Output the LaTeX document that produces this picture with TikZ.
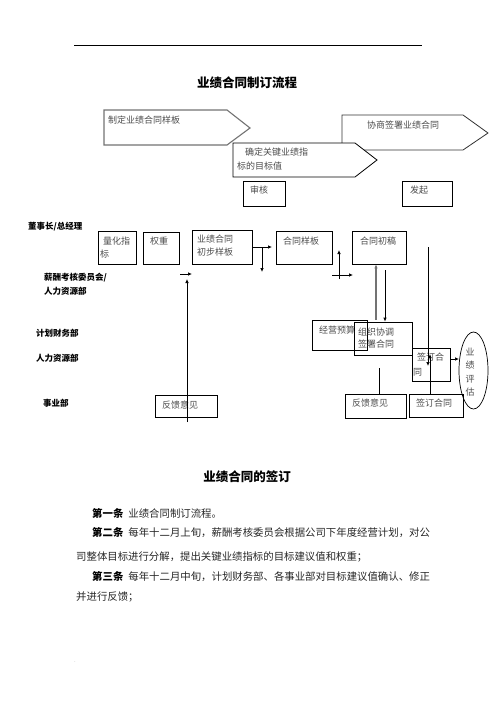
\documentclass[tikz,border=0pt]{standalone}
\usepackage{fontspec}
\setmainfont{Noto Sans CJK SC}
\usetikzlibrary{arrows.meta,calc,shapes.geometric}
\newcommand\bx[6][]{\node[boxs,#1,minimum width={(#5-#3)*1pt},minimum height={(#6-#4)*1pt}] (#2) at ({(#3+#5)/2},{(#4+#6)/2}) {};}
\begin{document}
\begin{tikzpicture}[x=1pt,y=-1pt,
  boxs/.style={draw=black,line width=0.7pt,inner sep=0pt},
  pent/.style={fill=white,line width=0.8pt},
  txt/.style={anchor=west,inner sep=0pt,font=\fontsize{9}{13}\selectfont,text=black!70,align=left},
  lane/.style={anchor=west,inner sep=0pt,font=\fontsize{8.5}{10}\selectfont\bfseries},
  ttl/.style={inner sep=0pt,font=\fontsize{12.5}{14}\selectfont\bfseries},
  body/.style={anchor=west,inner sep=0pt,font=\fontsize{10.4}{12}\selectfont,text=black!85},
  arr/.style={-{Latex[length=4pt,width=3.5pt]},line width=0.7pt},
  ln/.style={line width=0.7pt},
]
\useasboundingbox (0,0) rectangle (496,702);
% top rule
\coordinate (r1) at (74,45); \coordinate (r2) at (422,45);
\draw[line width=0.9pt] (r1) -- (r2);
\node[ttl] (t1) at (247,83) {业绩合同制订流程};

% pentagons
\draw[pent,draw=black!80] (342,115) -- (463,115) -- (488,133) -- (463,150) -- (342,150) -- cycle;
\draw[pent,draw=black!55,line width=1.1pt] (104,110) -- (227,110) -- (250,128) -- (227,145) -- (104,145) -- cycle;
\draw[pent,draw=black] (233,143) -- (355,143) -- (377,160) -- (355,177) -- (233,177) -- cycle;
\node[txt] (p1t) at (108,120) {制定业绩合同样板};
\node[txt] (p3t) at (367,125) {协商签署业绩合同};
\node[txt] (p2t) at (245,152) {确定关键业绩指};
\node[txt] (p2u) at (237,166) {标的目标值};

% boxes
\bx{sh}{243}{181}{285}{206}
\bx{fq}{402}{181}{452}{206}
\node[txt] (sht) at (250,190) {审核};
\node[txt] (fqt) at (410,190) {发起};

% lane labels
\node[lane] (l1) at (28,227) {董事长/总经理};
\node[lane] (l2) at (44,278) {薪酬考核委员会/};
\node[lane] (l3) at (44,291) {人力资源部};
\node[lane] (l4) at (36,333) {计划财务部};
\node[lane] (l5) at (36,358) {人力资源部};
\node[lane] (l6) at (43,403) {事业部};

% row boxes
\bx{lh}{98}{231}{136}{264}
\bx{qz}{143}{232}{179}{264}
\bx{yj}{192}{230}{252}{264}
\bx{ht}{276}{231}{332}{264}
\bx{cg}{352}{231}{406}{264}
\node[txt] (lht) at (103,241) {量化指};
\node[txt] (lhu) at (100,254) {标};
\node[txt] (qzt) at (150,241) {权重};
\node[txt] (yjt) at (197,239) {业绩合同};
\node[txt] (yju) at (197,252) {初步样板};
\node[txt] (htt) at (283,241) {合同样板};
\node[txt] (cgt) at (360,241) {合同初稿};

% lower boxes
\bx{jy}{312}{320}{367}{350}
\bx{zz}{354}{322}{412}{355}
\bx{qh}{412}{348}{450}{381}
\bx{fk1}{155}{395}{217}{417}
\bx{fk2}{345}{394}{406}{418}
\bx{qd}{409}{394}{463}{417}
\node[draw,ellipse,line width=0.7pt,inner sep=0pt,minimum width=29pt,minimum height=77pt] (pg) at (473.5,370.5) {};
\node[txt] (jyt) at (319,330) {经营预算};
\node[txt] (zzt) at (358,332) {组织协调};
\node[txt] (zzu) at (358,344) {签署合同};
\node[txt] (qht) at (417,357) {签订合};
\node[txt] (qhu) at (413,372) {同};
\node[txt] (fk1t) at (162,405) {反馈意见};
\node[txt] (fk2t) at (352,403) {反馈意见};
\node[txt] (qdt) at (416,403) {签订合同};
\node[txt,anchor=center,align=center,font=\fontsize{9}{13.4}\selectfont] (pgt) at (470,372) {业\\绩\\评\\估};

% connectors
\coordinate (a1e) at (272,247);
\draw[arr] (yj.east) -- (a1e);
\coordinate (a2s) at (262,247); \coordinate (a2e) at (262,272);
\draw[arr] (a2s) -- (a2e);
\coordinate (b1s) at (187,422); \coordinate (b1e) at (187,279);
\draw[arr] (b1s) -- (b1e);
\coordinate (b2s) at (180,274); \coordinate (b2e) at (192,274);
\draw[arr] (b2s) -- (b2e);
\coordinate (c1s) at (339,279); \coordinate (c1e) at (339,250);
\draw[arr] (c1s) -- (c1e);
\coordinate (c2s) at (332,275); \coordinate (c2e) at (353,275);
\draw[arr] (c2s) -- (c2e);
\coordinate (g1) at (376,320);
\draw[arr,draw=black!55,line width=1.4pt] (g1) -- (g1 |- cg.south);
\coordinate (g2) at (385,270);
\draw[arr] (g2) -- (g2 |- zz.north);
\coordinate (d1s) at (428,247); \coordinate (d1e) at (428,366);
\draw[arr] (d1s) -- (d1e);
\coordinate (d2s) at (430,394); \coordinate (d2e) at (430,354);
\draw[arr] (d2s) -- (d2e);
\coordinate (e1s) at (450,359); \coordinate (e1e) at (459,359);
\draw[arr] (e1s) -- (e1e);
\coordinate (f1) at (379,368);
\draw[ln] (f1) -- (f1 |- fk2.north);

% lower text
\node[ttl] (t2) at (247,477) {业绩合同的签订};
\node[body] (p1) at (92,513) {{\color{black}\bfseries 第一条}\hspace{5pt}业绩合同制订流程。};
\node[body] (p2) at (92,533) {{\color{black}\bfseries 第二条}\hspace{5pt}每年十二月上旬，薪酬考核委员会根据公司下年度经营计划，对公};
\node[body] (p3) at (76,557) {司整体目标进行分解，提出关键业绩指标的目标建议值和权重；};
\node[body] (p4) at (92,577) {{\color{black}\bfseries 第三条}\hspace{5pt}每年十二月中旬，计划财务部、各事业部对目标建议值确认、修正};
\node[body] (p5) at (76,597) {并进行反馈；};
\node[inner sep=0pt,text=black!30,font=\fontsize{6}{6}\selectfont] (dot) at (75,662) {.};
\end{tikzpicture}
\end{document}
